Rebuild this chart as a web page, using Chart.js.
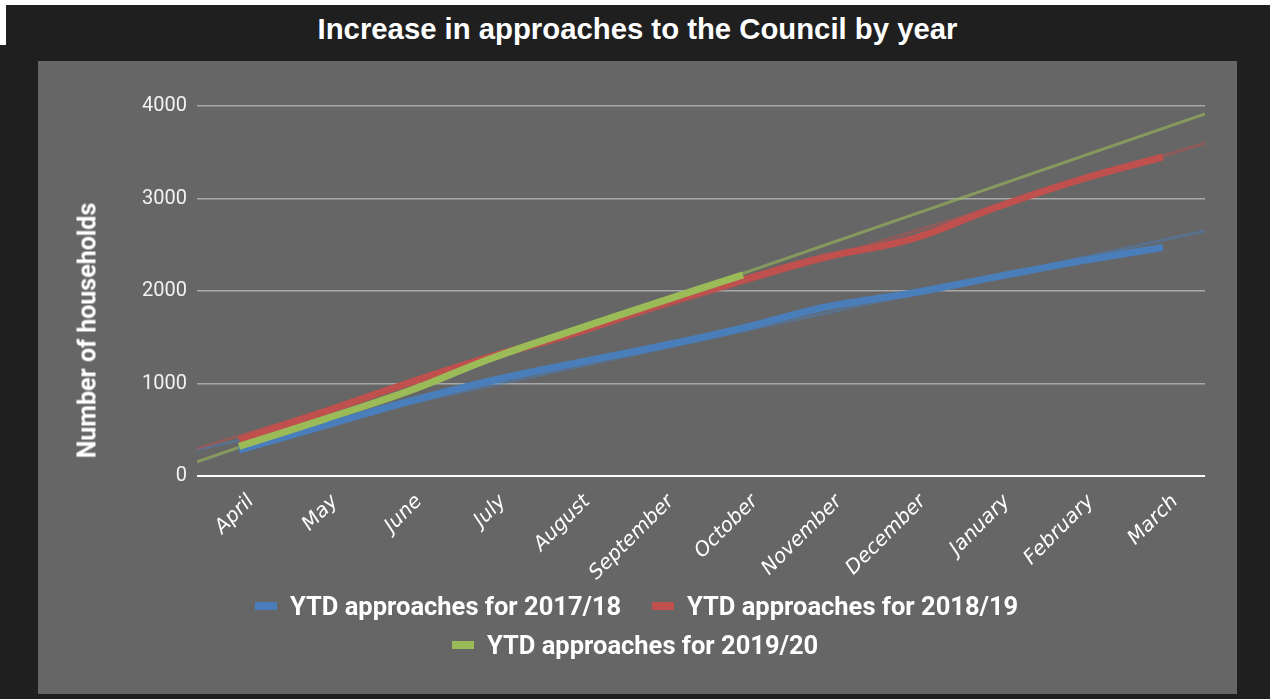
<!DOCTYPE html>
<html>
<head>
<meta charset="utf-8">
<script src="https://cdn.jsdelivr.net/npm/chart.js@4.4.1/dist/chart.umd.min.js"></script>
<style>
  body { margin: 0; background: #ffffff; width: 1270px; height: 699px; overflow: hidden; position: relative; }
  #frame { position: absolute; left: 0; top: 5px; width: 1270px; height: 694px; background: #1f1f1f; }
  #notch { position: absolute; left: 0; top: 5px; width: 6px; height: 40px; background: #ffffff; }
  #title { position: absolute; left: 0; top: 12px; width: 1275px; text-align: center; color: #ffffff;
    font: bold 29.3px "Liberation Sans", Arial, sans-serif; }
  #panel { position: absolute; left: 38px; top: 61px; width: 1199px; height: 633px; background: #666666; }
  #chart { position: absolute; left: 0; top: 0; }
  #ytitle { position: absolute; left: -151px; top: 255px; width: 400px; text-align: center; color: #ffffff;
    font: bold 25px Roboto, sans-serif; transform: rotate(-90deg); }
  .legend { position: absolute; color: #ffffff; font: bold 25.5px Roboto, sans-serif; white-space: nowrap; }
  .legend i { display: inline-block; width: 22px; height: 8px; margin-right: 13px; vertical-align: middle; position: relative; top: -2px; }
</style>
</head>
<body>
<div id="frame"></div>
<div id="notch"></div>
<div id="title">Increase in approaches to the Council by year</div>
<div id="panel">
  <canvas id="chart" width="1199" height="633"></canvas>
  <div id="ytitle">Number of households</div>
  <div class="legend" style="left:217px; top:530px;"><i style="background:#4a7ebb"></i>YTD approaches for 2017/18</div>
  <div class="legend" style="left:614px; top:530px;"><i style="background:#c0504d"></i>YTD approaches for 2018/19</div>
  <div class="legend" style="left:414px; top:569px;"><i style="background:#9bbb59"></i>YTD approaches for 2019/20</div>
</div>
<script>
const months = ["April", "May", "June", "July", "August", "September", "October",
  "November", "December", "January", "February", "March"];
const ytd1718 = [280, 540, 800, 1030, 1220, 1400, 1600, 1830, 1975, 2150, 2320, 2470];
const ytd1819 = [390, 690, 1000, 1290, 1545, 1850, 2120, 2370, 2560, 2900, 3200, 3450];
const ytd1920 = [320, 610, 910, 1270, 1580, 1880, 2175];
const yTicks = [0, 1000, 2000, 3000, 4000];

const blue = "#4a7ebb";
const red = "#c0504d";
const green = "#9bbb59";

function toPoints(values) {
  return values.map((v, i) => ({ x: i, y: v }));
}

// least squares trendline, drawn across the whole axis like the sheet does
function trendPoints(values) {
  const n = values.length;
  const mx = (n - 1) / 2;
  const my = values.reduce((s, v) => s + v, 0) / n;
  let sxy = 0;
  let sxx = 0;
  values.forEach((v, i) => {
    sxy += (i - mx) * (v - my);
    sxx += (i - mx) * (i - mx);
  });
  const slope = sxy / sxx;
  const at = (x) => my + slope * (x - mx);
  return [{ x: -0.5, y: at(-0.5) }, { x: months.length - 0.5, y: at(months.length - 0.5) }];
}

function dataLine(label, values, color, order) {
  return {
    label,
    data: toPoints(values),
    borderColor: color,
    borderWidth: 7,
    pointRadius: 0,
    tension: 0.4,
    order,
  };
}

function trendLine(values, color, order) {
  return {
    label: "trend",
    data: trendPoints(values),
    borderColor: color,
    borderWidth: 3,
    pointRadius: 0,
    order,
  };
}

new Chart(document.getElementById("chart"), {
  type: "line",
  data: {
    datasets: [
      dataLine("YTD approaches for 2019/20", ytd1920, green, 1),
      dataLine("YTD approaches for 2018/19", ytd1819, red, 2),
      dataLine("YTD approaches for 2017/18", ytd1718, blue, 3),
      trendLine(ytd1920, "rgba(155, 187, 89, 0.6)", 4),
      trendLine(ytd1819, "rgba(192, 80, 77, 0.45)", 5),
      trendLine(ytd1718, "rgba(74, 126, 187, 0.45)", 6),
    ],
  },
  options: {
    responsive: false,
    animation: false,
    layout: { padding: { top: 45, right: 32, left: 0, bottom: 0 } },
    plugins: { legend: { display: false }, tooltip: { enabled: false } },
    scales: {
      x: {
        type: "linear",
        min: -0.5,
        max: months.length - 0.5,
        grid: { display: false, drawTicks: false },
        border: { display: false },
        afterBuildTicks: (scale) => { scale.ticks = months.map((_, i) => ({ value: i })); },
        afterFit: (scale) => { scale.height = 218; },
        ticks: {
          autoSkip: false,
          minRotation: 45,
          maxRotation: 45,
          padding: 14,
          labelOffset: 12,
          color: "#ffffff",
          font: { family: "DejaVu Sans", size: 20, style: "italic" },
          callback: (value) => months[value],
        },
      },
      y: {
        min: 0,
        max: 4000,
        afterBuildTicks: (scale) => { scale.ticks = yTicks.map((v) => ({ value: v })); },
        afterFit: (scale) => { scale.width = 159; },
        border: { display: false },
        grid: {
          drawTicks: false,
          color: (ctx) => (ctx.tick.value === 0 ? "#ffffff" : "#a8a8a8"),
          lineWidth: (ctx) => (ctx.tick.value === 0 ? 2 : 1.5),
        },
        ticks: {
          padding: 10,
          color: "#f2f2f2",
          font: { family: "Roboto", size: 20 },
          callback: (value) => String(value),
        },
      },
    },
  },
});
</script>
</body>
</html>
